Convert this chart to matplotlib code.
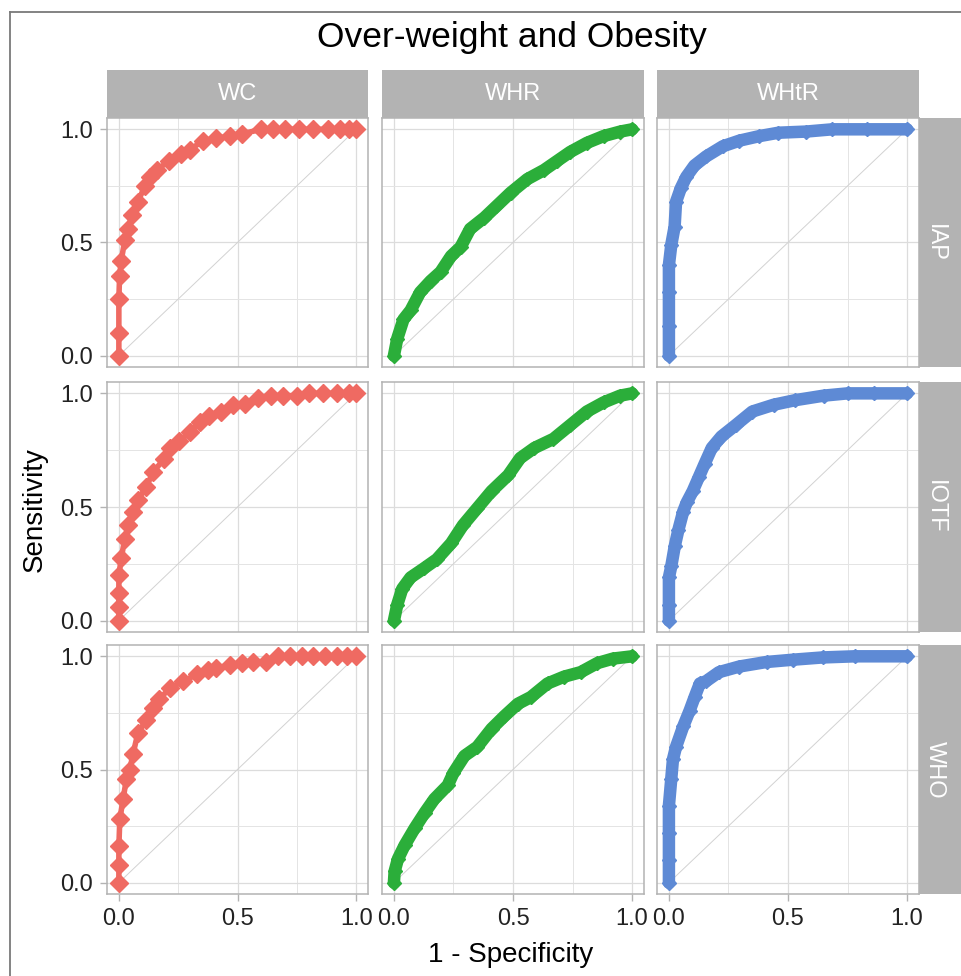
import matplotlib
matplotlib.use("Agg")
import matplotlib.pyplot as plt
from matplotlib.patches import Rectangle
from matplotlib.lines import Line2D

plt.rcParams['font.family'] = ['Liberation Sans', 'DejaVu Sans']

# facet labels
col_labels = ["WC", "WHR", "WHtR"]
row_labels = ["IAP", "IOTF", "WHO"]
title = "Over-weight and Obesity"

# ROC points (1 - specificity, sensitivity)
wc_iap_x = [0, 0, 0, 0.003, 0.01, 0.025, 0.04, 0.055, 0.08, 0.11, 0.13, 0.16, 0.21, 0.26, 0.30,
            0.355, 0.41, 0.47, 0.52, 0.60, 0.65, 0.70, 0.76, 0.82, 0.88, 0.93, 0.97, 1.0]
wc_iap_y = [0, 0.1, 0.25, 0.35, 0.42, 0.51, 0.56, 0.62, 0.68, 0.75, 0.79, 0.82, 0.86, 0.89, 0.91,
            0.95, 0.96, 0.97, 0.98, 1.0, 1.0, 1.0, 1.0, 1.0, 1.0, 1.0, 1.0, 1.0]

wc_iotf_x = [0, 0, 0, 0.0, 0.01, 0.025, 0.04, 0.06, 0.08, 0.116, 0.145, 0.19, 0.215, 0.255, 0.30,
             0.34, 0.38, 0.43, 0.48, 0.53, 0.585, 0.64, 0.69, 0.75, 0.80, 0.86, 0.92, 0.97, 1.0]
wc_iotf_y = [0, 0.06, 0.12, 0.2, 0.275, 0.36, 0.42, 0.48, 0.53, 0.59, 0.655, 0.71, 0.76, 0.79, 0.83,
             0.875, 0.90, 0.92, 0.95, 0.955, 0.98, 0.99, 0.99, 0.99, 1.0, 1.0, 1.0, 1.0, 1.0]

wc_who_x = [0, 0, 0, 0.004, 0.018, 0.032, 0.046, 0.06, 0.08, 0.116, 0.145, 0.17, 0.215, 0.27, 0.33,
            0.376, 0.41, 0.47, 0.52, 0.565, 0.62, 0.67, 0.72, 0.77, 0.82, 0.87, 0.92, 0.96, 1.0]
wc_who_y = [0, 0.08, 0.16, 0.28, 0.37, 0.46, 0.50, 0.57, 0.66, 0.72, 0.77, 0.81, 0.86, 0.89, 0.92,
            0.94, 0.95, 0.96, 0.97, 0.975, 0.975, 1.0, 1.0, 1.0, 1.0, 1.0, 1.0, 1.0, 1.0]

whr_iap_x = [0, 0.014, 0.04, 0.07, 0.11, 0.154, 0.196, 0.24, 0.28, 0.32, 0.38, 0.43, 0.49,
             0.56, 0.63, 0.685, 0.74, 0.81, 0.88, 0.95, 1.0]
whr_iap_y = [0, 0.075, 0.16, 0.20, 0.28, 0.33, 0.37, 0.44, 0.48, 0.56, 0.61, 0.66, 0.72,
             0.78, 0.82, 0.86, 0.90, 0.94, 0.97, 0.99, 1.0]

whr_iotf_x = [0, 0.014, 0.035, 0.07, 0.126, 0.18, 0.24, 0.29, 0.35, 0.41, 0.48, 0.53, 0.59,
              0.67, 0.74, 0.81, 0.88, 0.95, 1.0]
whr_iotf_y = [0, 0.07, 0.14, 0.19, 0.23, 0.27, 0.34, 0.42, 0.495, 0.57, 0.64, 0.715, 0.76,
              0.80, 0.86, 0.92, 0.96, 0.99, 1.0]

whr_who_x = [0, 0.003, 0.017, 0.045, 0.087, 0.13, 0.17, 0.226, 0.25, 0.296, 0.35, 0.41, 0.463,
             0.52, 0.575, 0.645, 0.714, 0.784, 0.854, 0.92, 1.0]
whr_who_y = [0, 0.05, 0.105, 0.165, 0.24, 0.31, 0.37, 0.43, 0.485, 0.56, 0.60, 0.68, 0.735,
             0.79, 0.82, 0.88, 0.91, 0.93, 0.97, 0.99, 1.0]

whtr_iap_x = [0, 0, 0, 0, 0.01, 0.024, 0.03, 0.05, 0.073, 0.107, 0.156, 0.226, 0.296, 0.38,
              0.46, 0.575, 0.686, 0.83, 1.0]
whtr_iap_y = [0, 0.13, 0.28, 0.40, 0.49, 0.57, 0.68, 0.74, 0.79, 0.84, 0.88, 0.925, 0.95, 0.97,
              0.985, 0.99, 1.0, 1.0, 1.0]

whtr_iotf_x = [0, 0, 0, 0.01, 0.025, 0.04, 0.06, 0.075, 0.10, 0.125, 0.15, 0.18, 0.22, 0.28,
               0.35, 0.44, 0.53, 0.65, 0.75, 0.86, 1.0]
whtr_iotf_y = [0, 0.07, 0.19, 0.24, 0.33, 0.40, 0.48, 0.52, 0.57, 0.63, 0.69, 0.76, 0.81, 0.86,
               0.92, 0.95, 0.97, 0.99, 1.0, 1.0, 1.0]

whtr_who_x = [0, 0, 0, 0, 0.01, 0.017, 0.03, 0.06, 0.087, 0.108, 0.13, 0.156, 0.21, 0.296,
              0.41, 0.52, 0.645, 0.78, 1.0]
whtr_who_y = [0, 0.10, 0.22, 0.34, 0.46, 0.545, 0.60, 0.69, 0.76, 0.82, 0.88, 0.89, 0.93, 0.955,
              0.975, 0.985, 0.995, 1.0, 1.0]

curves = [
    [(wc_iap_x, wc_iap_y), (whr_iap_x, whr_iap_y), (whtr_iap_x, whtr_iap_y)],
    [(wc_iotf_x, wc_iotf_y), (whr_iotf_x, whr_iotf_y), (whtr_iotf_x, whtr_iotf_y)],
    [(wc_who_x, wc_who_y), (whr_who_x, whr_who_y), (whtr_who_x, whtr_who_y)],
]
colors = ["#EF6A62", "#2BAE3A", "#5E8AD5"]
ticks = [0, 0.5, 1.0]
tick_labels = ["0.0", "0.5", "1.0"]

W, H = 961, 976
fig = plt.figure(figsize=(W / 100, H / 100), dpi=100)

col_px = [(107, 368), (382, 644), (657, 919)]
row_px = [(118, 367), (382, 632), (645, 894)]
strip_top = 70
strip_gray = "#B3B3B3"


def frac_rect(x0, y0, x1, y1):
    return [x0 / W, 1 - y1 / H, (x1 - x0) / W, (y1 - y0) / H]


for r, (y0, y1) in enumerate(row_px):
    for c, (x0, x1) in enumerate(col_px):
        ax = fig.add_axes(frac_rect(x0, y0, x1, y1))
        ax.set_xlim(-0.05, 1.05)
        ax.set_ylim(-0.05, 1.05)
        ax.set_xticks(ticks)
        ax.set_yticks(ticks)
        ax.set_xticks([0.25, 0.75], minor=True)
        ax.set_yticks([0.25, 0.75], minor=True)
        ax.grid(which='major', color='#DCDCDC', lw=0.9)
        ax.grid(which='minor', color='#E4E4E4', lw=0.7)
        ax.set_axisbelow(True)
        for s in ax.spines.values():
            s.set_color(strip_gray)
            s.set_linewidth(1.1)
        ax.tick_params(which='minor', length=0)
        ax.tick_params(which='major', length=5, color=strip_gray, width=1,
                       labelsize=17, labelcolor='#222222', pad=5)
        if c == 0:
            ax.set_yticklabels(tick_labels)
        else:
            ax.tick_params(axis='y', which='major', length=0, labelleft=False)
        if r == 2:
            ax.set_xticklabels(tick_labels)
        else:
            ax.tick_params(axis='x', which='major', length=0, labelbottom=False)

        ax.plot([0, 1], [0, 1], color='#D2D2D2', lw=0.7, zorder=2)
        xs, ys = curves[r][c]
        if c == 0:
            lw, ms = 4, 9
        else:
            lw, ms = 9, 7
        ax.plot(xs, ys, color=colors[c], lw=lw, solid_capstyle='round',
                solid_joinstyle='round', marker='D', ms=ms, mec=colors[c],
                zorder=3, clip_on=False)

# top strips
for c, (x0, x1) in enumerate(col_px):
    fig.add_artist(Rectangle((x0 / W, 1 - row_px[0][0] / H), (x1 - x0) / W,
                             (row_px[0][0] - strip_top) / H, transform=fig.transFigure,
                             facecolor=strip_gray, edgecolor='none'))
    fig.text((x0 + x1) / 2 / W, 1 - (strip_top + row_px[0][0]) / 2 / H, col_labels[c],
             color='white', fontsize=17, ha='center', va='center')

# right strips
for r, (y0, y1) in enumerate(row_px):
    fig.add_artist(Rectangle((col_px[2][1] / W, 1 - y1 / H), (W - col_px[2][1]) / W,
                             (y1 - y0) / H, transform=fig.transFigure,
                             facecolor=strip_gray, edgecolor='none'))
    fig.text(935 / W, 1 - (y0 + y1) / 2 / H, row_labels[r], color='white', fontsize=17,
             ha='center', va='center', rotation=-90)

fig.text(512 / W, 1 - 38 / H, title, fontsize=25.5, ha='center', va='center', color='black')
fig.text(511 / W, 1 - 955 / H, "1 - Specificity", fontsize=20, ha='center', va='center')
fig.text(35 / W, 1 - 510 / H, "Sensitivity", fontsize=20, ha='center', va='center',
         rotation=90)

# outer frame (left and top edges visible)
fig.add_artist(Line2D([10 / W, 10 / W], [0, 1 - 12 / H], transform=fig.transFigure,
                      color='#7A7A7A', lw=1.3))
fig.add_artist(Line2D([10 / W, 1], [1 - 12 / H, 1 - 12 / H], transform=fig.transFigure,
                      color='#7A7A7A', lw=1.3))

fig.savefig("out.png", dpi=100)
